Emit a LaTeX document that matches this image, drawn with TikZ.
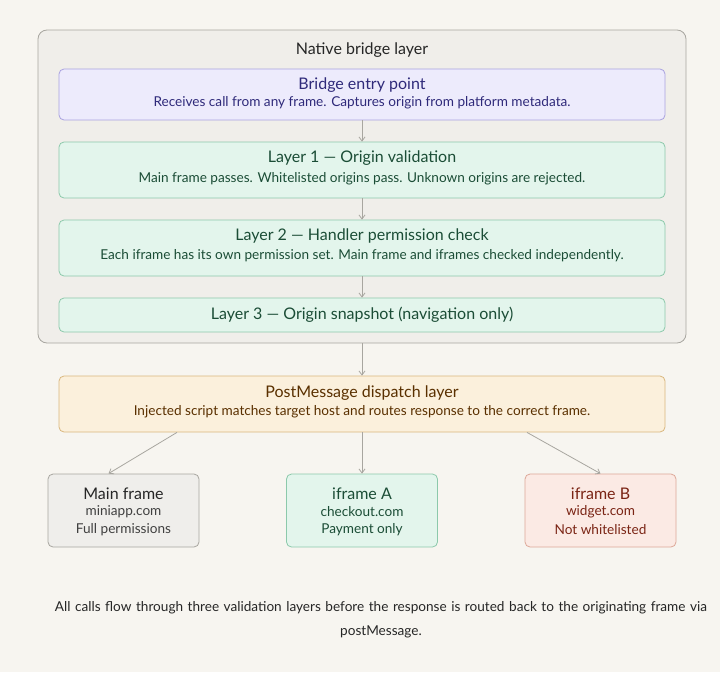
\documentclass[tikz,border=0pt]{standalone}
\usepackage{fontspec}
\setmainfont{Lato}
\usetikzlibrary{arrows.meta}
\definecolor{bgcream}{HTML}{F7F5F0}
\definecolor{outerfill}{HTML}{F0EEEA}
\definecolor{outerline}{HTML}{A8A6A0}
\definecolor{bridgefill}{HTML}{EDEBFC}
\definecolor{bridgeline}{HTML}{A9A2E0}
\definecolor{bridgetext}{HTML}{2F2A7A}
\definecolor{layerfill}{HTML}{E3F5EC}
\definecolor{layerline}{HTML}{8CC9AB}
\definecolor{layertext}{HTML}{1B4D36}
\definecolor{dispfill}{HTML}{FBF0DC}
\definecolor{displine}{HTML}{D9B77E}
\definecolor{disptext}{HTML}{5A3000}
\definecolor{mainfill}{HTML}{EFEEEB}
\definecolor{mainline}{HTML}{A8A6A0}
\definecolor{redfill}{HTML}{FBEAE4}
\definecolor{redline}{HTML}{DDA898}
\definecolor{redtext}{HTML}{7A2414}
\definecolor{arrowgray}{HTML}{A8A6A0}
\tikzset{
  box/.style={draw, rounded corners=5pt, line width=0.8pt, minimum width=606pt, align=center},
  ttl/.style={font=\fontsize{16}{19}\selectfont},
  sub/.style={font=\fontsize{13.6}{16}\selectfont},
  flow/.style={draw=arrowgray, line width=0.8pt, -{Straight Barb[length=4pt,width=6pt]}},
  frame/.style={draw, rounded corners=5pt, line width=0.8pt, minimum width=151pt, minimum height=73pt}
}
\begin{document}
\begin{tikzpicture}[x=1pt,y=-1pt]
\fill[bgcream] (0,0) rectangle (720,672);
\useasboundingbox (0,0) rectangle (720,672);
% native bridge layer
\draw[fill=outerfill,draw=outerline,rounded corners=9pt,line width=0.8pt] (38,30) rectangle (686,343);
\node[ttl,text=black!85] (native) at (362,50) {Native bridge layer};
\node[box,fill=bridgefill,draw=bridgeline,minimum height=51pt] (entry) at (362,94.5) {};
\node[ttl,text=bridgetext] at (362,85) {Bridge entry point};
\node[sub,text=bridgetext] at (362,103) {Receives call from any frame. Captures origin from platform metadata.};
\node[box,fill=layerfill,draw=layerline,minimum height=56pt] (layer1) at (362,170) {};
\node[ttl,text=layertext] at (362,158) {Layer 1 — Origin validation};
\node[sub,text=layertext] at (362,179) {Main frame passes. Whitelisted origins pass. Unknown origins are rejected.};
\node[box,fill=layerfill,draw=layerline,minimum height=56pt] (layer2) at (362,248) {};
\node[ttl,text=layertext] at (362,236) {Layer 2 — Handler permission check};
\node[sub,text=layertext] at (362,256) {Each iframe has its own permission set. Main frame and iframes checked independently.};
\node[box,fill=layerfill,draw=layerline,minimum height=34pt] (layer3) at (362,315) {};
\node[ttl,text=layertext] at (362,315) {Layer 3 — Origin snapshot (navigation only)};
\coordinate (nativebot) at (362,343);
% dispatch
\node[box,fill=dispfill,draw=displine,minimum height=56pt] (dispatch) at (362,404) {};
\node[ttl,text=disptext] at (362,393) {PostMessage dispatch layer};
\node[sub,text=disptext] at (362,412) {Injected script matches target host and routes response to the correct frame.};
% frames
\node[frame,fill=mainfill,draw=mainline] (mainframe) at (123.5,510.5) {};
\node[ttl,text=black!85] at (123.5,494) {Main frame};
\node[sub,text=black!75] at (123.5,512) {miniapp.com};
\node[sub,text=black!75] at (123.5,530) {Full permissions};
\node[frame,fill=layerfill,draw=layerline] (iframea) at (362,510.5) {};
\node[ttl,text=layertext] at (362,494) {iframe A};
\node[sub,text=layertext] at (362,512) {checkout.com};
\node[sub,text=layertext] at (362,530) {Payment only};
\node[frame,fill=redfill,draw=redline] (iframeb) at (600.5,510.5) {};
\node[ttl,text=redtext] at (600.5,494) {iframe B};
\node[sub,text=redtext] at (600.5,512) {widget.com};
\node[sub,text=redtext] at (600.5,530) {Not whitelisted};
% connectors
\draw[flow] (entry) -- (layer1);
\draw[flow] (layer1) -- (layer2);
\draw[flow] (layer2) -- (layer3);
\draw[flow] (nativebot) -- (dispatch);
\draw[flow] ([xshift=-185pt]dispatch.south) -- ([xshift=-15pt]mainframe.north);
\draw[flow] (dispatch) -- (iframea);
\draw[flow] ([xshift=165pt]dispatch.south) -- (iframeb.north);
% caption
\node[text=black!85,font=\fontsize{13.6}{24}\selectfont,align=center,text width=720pt] (caption) at (381,620) {All calls flow through three validation layers before the response is routed back to the originating frame via\\postMessage.};
\end{tikzpicture}
\end{document}
